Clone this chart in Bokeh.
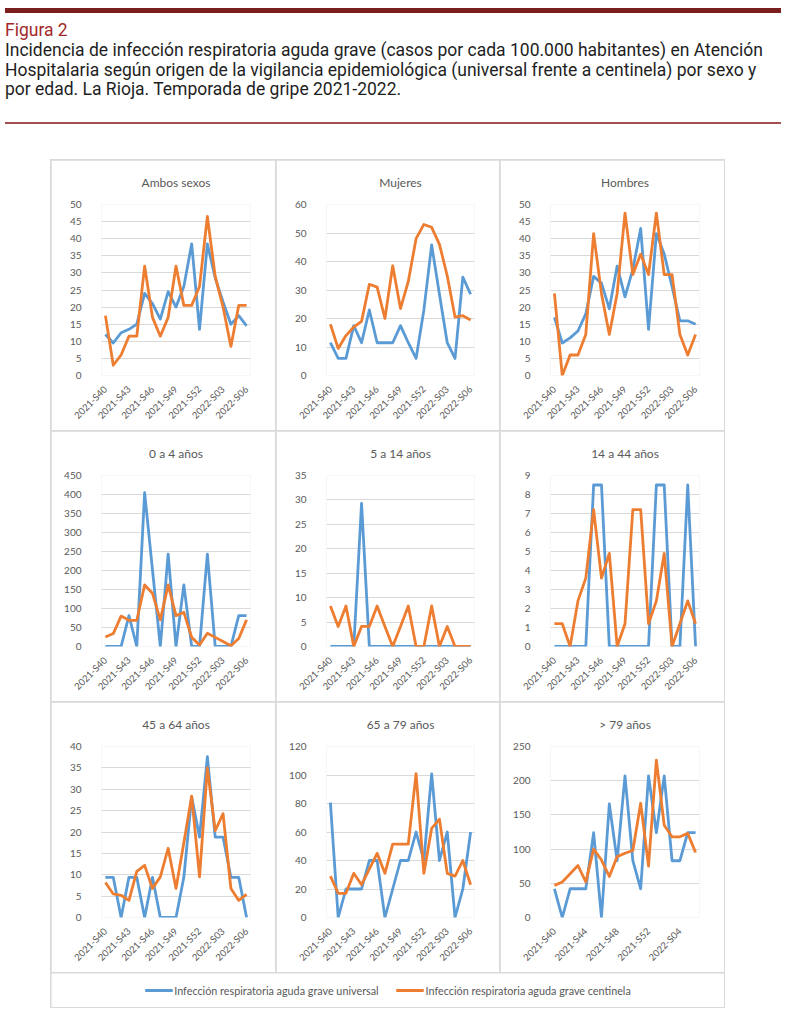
from math import pi
from bokeh.plotting import figure
from bokeh.models import Range1d, FixedTicker, Div, Spacer, Legend, LegendItem, GridBox
from bokeh.layouts import column, row
from bokeh.embed import file_html
from bokeh.resources import INLINE

# ---------------- data ----------------
weeks = ["2021-S40", "2021-S41", "2021-S42", "2021-S43", "2021-S44", "2021-S45", "2021-S46",
         "2021-S47", "2021-S48", "2021-S49", "2021-S50", "2021-S51", "2021-S52",
         "2022-S01", "2022-S02", "2022-S03", "2022-S04", "2022-S05", "2022-S06"]

ticks_every3 = ["2021-S40", "2021-S43", "2021-S46", "2021-S49", "2021-S52", "2022-S03", "2022-S06"]
ticks_every4 = ["2021-S40", "2021-S44", "2021-S48", "2021-S52", "2022-S04"]

series_names = ["Infección respiratoria aguda grave universal",
                "Infección respiratoria aguda grave centinela"]

titles = ["Ambos sexos", "Mujeres", "Hombres",
          "0 a 4 años", "5 a 14 años", "14 a 44 años",
          "45 a 64 años", "65 a 79 años", "> 79 años"]

ambos_univ = [12, 9.5, 12.5, 13.5, 15, 24, 21, 16.5, 24.5, 20, 26, 38.5, 13.5, 38.5, 28.5, 21.5, 15, 17.5, 14.5]
ambos_cent = [17.5, 3, 6, 11.5, 11.5, 32, 17, 11.5, 17, 32, 20.5, 20.5, 26, 46.5, 29, 20, 8.5, 20.5, 20.5]

mujeres_univ = [11.5, 6, 6, 17.5, 11.5, 23, 11.5, 11.5, 11.5, 17.5, 11.5, 6, 23, 45.8, 28.5, 11.5, 6, 34.5, 28.5]
mujeres_cent = [18, 9.5, 14, 17, 19, 32, 31, 20, 38.5, 23.5, 33, 48, 53, 52, 46, 35, 20.5, 21, 19.5]

hombres_univ = [17, 9.5, 11, 13, 18, 29, 27, 19.5, 32, 23, 31, 43, 13.5, 41.5, 35.5, 26, 16, 16, 15]
hombres_cent = [24, 0, 6, 6, 12, 41.5, 24, 12, 24, 47.5, 29.5, 35.5, 29.5, 47.5, 29.5, 29.5, 12, 6, 12]

e0_4_univ = [0, 0, 0, 81, 0, 405, 202, 0, 243, 0, 162, 0, 0, 243, 0, 0, 0, 81, 81]
e0_4_cent = [25, 34, 80, 69, 69, 162, 140, 70, 162, 81, 90, 24, 4, 35, 24, 13, 2, 21, 70]

e5_14_univ = [0, 0, 0, 0, 29.3, 0, 0, 0, 0, 0, 0, 0, 0, 0, 0, 0, 0, 0, 0]
e5_14_cent = [8.3, 4.1, 8.3, 0, 4.1, 4.1, 8.3, 4.1, 0, 4.1, 8.3, 0, 0, 8.3, 0, 4.1, 0, 0, 0]

e14_44_univ = [0, 0, 0, 0, 0, 8.5, 8.5, 0, 0, 0, 0, 0, 0, 8.5, 8.5, 0, 0, 8.5, 0]
e14_44_cent = [1.2, 1.2, 0, 2.4, 3.6, 7.2, 3.6, 4.9, 0, 1.2, 7.2, 7.2, 1.2, 2.4, 4.9, 0, 1.2, 2.4, 1.2]

e45_64_univ = [9.4, 9.4, 0, 9.4, 9.4, 0, 9.4, 0, 0, 0, 9.4, 28.2, 18.8, 37.6, 18.8, 18.8, 9.4, 9.4, 0]
e45_64_cent = [8.2, 5.5, 5.2, 4, 10.8, 12.2, 6.8, 9.5, 16.2, 6.8, 17.5, 28.4, 9.5, 35, 20.3, 24.3, 6.8, 4, 5.4]

e65_79_univ = [80.6, 0, 20, 20, 20, 40, 40, 0, 20, 40, 40, 60, 40, 100.8, 40, 60, 0, 20, 60]
e65_79_cent = [29, 17, 17, 31, 23, 34, 45, 31, 51.5, 51.5, 51.5, 101, 31, 62.5, 69, 31, 29, 40, 23]

e80_univ = [42, 0, 42, 42, 42, 124, 0, 166, 83, 207, 83, 42, 207, 124, 207, 83, 83, 124, 124]
e80_cent = [47, 52, 64, 76, 52, 100, 84, 60, 89, 94, 98, 167, 75, 230, 135, 118, 118, 123, 95]

y_max = [50, 60, 50, 450, 35, 9, 40, 120, 250]
y_step = [5, 10, 5, 50, 5, 1, 5, 20, 50]

# ---------------- style ----------------
BLUE = "#5B9BD5"
ORANGE = "#ED7D31"
GRID = "#d9d9d9"
TXT = "#595959"
FONT = "Lato"
LW = 2.8

univ_all = [ambos_univ, mujeres_univ, hombres_univ, e0_4_univ, e5_14_univ, e14_44_univ,
            e45_64_univ, e65_79_univ, e80_univ]
cent_all = [ambos_cent, mujeres_cent, hombres_cent, e0_4_cent, e5_14_cent, e14_44_cent,
            e45_64_cent, e65_79_cent, e80_cent]
col_w = [224, 223, 224]
xpos = list(range(len(weeks)))  # category positions on the axis


def make_panel(k):
    w = col_w[k % 3]
    p = figure(width=w, height=270, output_backend="svg", toolbar_location=None,
               x_range=Range1d(-0.5, len(weeks) - 0.5), y_range=Range1d(0, y_max[k]),
               min_border_left=50, min_border_right=25, min_border_top=44, min_border_bottom=55)
    p.title.text = titles[k]
    p.title.align = "center"
    p.title.vertical_align = "top"
    p.title.text_font = FONT
    p.title.text_font_size = "12px"
    p.title.text_font_style = "normal"
    p.title.text_color = TXT
    p.title.standoff = 26
    p.line(xpos, univ_all[k], line_color=BLUE, line_width=LW, line_join="round")
    p.line(xpos, cent_all[k], line_color=ORANGE, line_width=LW, line_join="round")

    shown = ticks_every4 if k == 8 else ticks_every3
    p.xaxis.ticker = FixedTicker(ticks=[weeks.index(s) for s in shown])
    p.xaxis.major_label_overrides = {i: wk for i, wk in enumerate(weeks)}
    p.xaxis.major_label_orientation = pi / 4
    p.yaxis.ticker = FixedTicker(ticks=list(range(0, y_max[k] + 1, y_step[k])))
    for ax in (p.xaxis, p.yaxis):
        ax.axis_line_color = None
        ax.major_tick_line_color = None
        ax.minor_tick_line_color = None
        ax.major_label_text_font = FONT
        ax.major_label_text_color = TXT
    p.yaxis.major_label_text_font_size = "10px"
    p.xaxis.major_label_text_font_size = "9.5px"
    p.yaxis.major_label_standoff = 14
    p.xaxis.major_label_standoff = 6
    p.xgrid.grid_line_color = None
    p.ygrid.grid_line_color = GRID
    p.outline_line_color = None
    return p


panels = [make_panel(k) for k in range(9)]
grid = GridBox(children=[(panels[k], k // 3, k % 3) for k in range(9)], spacing=1)

# legend strip (helper renderers hold a single NaN point, so nothing is drawn)
lf = figure(width=673, height=34, output_backend="svg", toolbar_location=None,
            x_range=Range1d(0, 1), y_range=Range1d(0, 1), min_border=0)
lf.axis.visible = False
lf.grid.grid_line_color = None
lf.outline_line_color = None
nan = float("nan")
r1 = lf.line([nan], [nan], line_color=BLUE, line_width=LW)
r2 = lf.line([nan], [nan], line_color=ORANGE, line_width=LW)
leg = Legend(items=[LegendItem(label=series_names[0], renderers=[r1]),
                    LegendItem(label=series_names[1], renderers=[r2])],
             orientation="horizontal", location="center", border_line_color=None,
             background_fill_alpha=0, label_text_font=FONT, label_text_font_size="10.8px",
             label_text_color=TXT, glyph_width=28, label_standoff=2, spacing=17,
             padding=0, margin=0)
lf.add_layout(leg, "center")

box = column(grid, lf, spacing=1,
             styles={"background-color": GRID, "border": "1px solid " + GRID})

head_font = "Roboto, sans-serif"
header_html = (
    '<div style="position:relative;width:776px;height:149px;font-family:' + head_font + ';">'
    '<div style="position:absolute;left:0;top:3px;width:776px;height:5px;background:#7a1e1e;"></div>'
    '<div style="position:absolute;left:0;top:15px;color:#a3292b;font-size:17.5px;line-height:20px;white-space:nowrap;">Figura 2</div>'
    '<div style="position:absolute;left:0;top:36px;color:#1e1e1e;font-size:17.5px;line-height:19.5px;white-space:nowrap;">'
    'Incidencia de infección respiratoria aguda grave (casos por cada 100.000 habitantes) en Atención<br>'
    'Hospitalaria según origen de la vigilancia epidemiológica (universal frente a centinela) por sexo y<br>'
    'por edad. La Rioja. Temporada de gripe 2021-2022.</div>'
    '<div style="position:absolute;left:0;top:117px;width:776px;height:2px;background:#a55050;"></div>'
    '</div>'
)
header = Div(text=header_html, width=776, height=149)

page = column(header, row(Spacer(width=50), box))

open("out.html", "w").write(file_html(page, INLINE))
